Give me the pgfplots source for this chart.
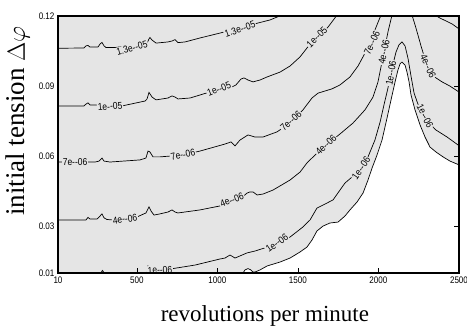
\documentclass[border=0pt]{standalone}
\usepackage{fontspec}
\setmainfont{Liberation Serif}
\newfontfamily\tickfont[FakeStretch=0.85]{Liberation Sans}
\usepackage{pgfplots}
\pgfplotsset{compat=1.18}
\definecolor{fillgray}{RGB}{229,229,229}
\newcommand\clab{\tickfont\fontsize{10}{11}\selectfont}
\begin{document}
\begin{tikzpicture}[x=1pt,y=1pt]
\begin{axis}[
  at={(58pt,52pt)}, anchor=south west,
  scale only axis, width=401pt, height=257pt,
  xmin=10, xmax=2500, ymin=0.01, ymax=0.12,
  xtick={10,500,1000,1500,2000,2500},
  xticklabels={10,500,1000,1500,2000,2500},
  ytick={0.01,0.03,0.06,0.09,0.12},
  yticklabels={0.01,0.03,0.06,0.09,0.12},
  xtick pos=bottom, ytick pos=right, yticklabel pos=left,
  tick align=inside, major tick length=5pt,
  tick style={black, line width=0.6pt},
  ticklabel style={font=\tickfont\fontsize{9.5}{10}\selectfont},
  axis line style={black, line width=1.1pt},
  axis background/.style={fill=fillgray},
  axis on top,
  xlabel={revolutions per minute},
  xlabel style={font=\fontsize{23}{26}\selectfont, at={(axis description cs:0.516,-0.167)}, anchor=center},
  ylabel={initial tension $\Delta\varphi$},
  ylabel style={font=\fontsize{27}{30}\selectfont, at={(axis description cs:-0.0998,0.591)}, anchor=center},
]
% white (lowest) region
\addplot[draw=none, fill=white] coordinates {(1159,0.0095)(1159,0.0100)(1171,0.0113)(1190,0.0119)(1208,0.0113)(1221,0.0104)(1233,0.0104)(1264,0.0113)(1308,0.0130)(1389,0.0147)(1451,0.0164)(1513,0.0190)(1556,0.0211)(1587,0.0241)(1618,0.0280)(1656,0.0301)(1699,0.0314)(1749,0.0318)(1792,0.0344)(1823,0.0370)(1867,0.0404)(1904,0.0442)(1935,0.0498)(1960,0.0549)(1991,0.0605)(2022,0.0669)(2053,0.0763)(2078,0.0841)(2103,0.0918)(2121,0.0969)(2134,0.0995)(2146,0.1003)(2165,0.0990)(2177,0.0960)(2190,0.0918)(2202,0.0862)(2227,0.0798)(2258,0.0734)(2289,0.0682)(2320,0.0639)(2357,0.0618)(2401,0.0597)(2444,0.0579)(2510,0.0560)(2510,0.0095)} -- cycle;
\addplot[black, line width=0.7pt] coordinates {(1159,0.0095)(1159,0.0100)(1171,0.0113)(1190,0.0119)(1208,0.0113)(1221,0.0104)(1233,0.0104)(1264,0.0113)(1308,0.0130)(1389,0.0147)(1451,0.0164)(1513,0.0190)(1556,0.0211)(1587,0.0241)(1618,0.0280)(1656,0.0301)(1699,0.0314)(1749,0.0318)(1792,0.0344)(1823,0.0370)(1867,0.0404)(1904,0.0442)(1935,0.0498)(1960,0.0549)(1991,0.0605)(2022,0.0669)(2053,0.0763)(2078,0.0841)(2103,0.0918)(2121,0.0969)(2134,0.0995)(2146,0.1003)(2165,0.0990)(2177,0.0960)(2190,0.0918)(2202,0.0862)(2227,0.0798)(2258,0.0734)(2289,0.0682)(2320,0.0639)(2357,0.0618)(2401,0.0597)(2444,0.0579)(2510,0.0560)};
% tiny contour at bottom
\addplot[black, line width=0.7pt] coordinates {(271,0.0095)(286,0.0111)(302,0.0095)};
% 1.3e-05
\addplot[black, line width=0.7pt] coordinates {(10,0.1062)(171,0.1063)(184,0.1072)(196,0.1074)(209,0.1067)(258,0.1067)(271,0.1080)(283,0.1087)(296,0.1072)(308,0.1065)(364,0.1065)(563,0.1084)(575,0.1102)(581,0.1108)(594,0.1097)(619,0.1084)(693,0.1089)(718,0.1093)(737,0.1099)(755,0.1086)(799,0.1089)(892,0.1106)(1016,0.1127)(1140,0.1149)(1252,0.1170)(1326,0.1183)(1401,0.1204)};
% 1e-05
\addplot[black, line width=0.7pt] coordinates {(10,0.0815)(171,0.0815)(184,0.0823)(196,0.0828)(209,0.0819)(258,0.0819)(407,0.0815)(550,0.0836)(563,0.0845)(575,0.0873)(594,0.0853)(619,0.0841)(693,0.0849)(718,0.0858)(737,0.0853)(755,0.0845)(830,0.0849)(954,0.0875)(1078,0.0892)(1115,0.0905)(1146,0.0930)(1165,0.0935)(1190,0.0926)(1221,0.0918)(1264,0.0926)(1308,0.0939)(1389,0.0960)(1451,0.0986)(1513,0.1025)(1556,0.1063)(1618,0.1106)(1687,0.1153)(1743,0.1204)};
% 7e-06
\addplot[black, line width=0.7pt] coordinates {(10,0.0575)(240,0.0575)(265,0.0579)(283,0.0592)(296,0.0579)(333,0.0575)(519,0.0584)(556,0.0592)(569,0.0622)(581,0.0618)(600,0.0597)(643,0.0597)(786,0.0605)(892,0.0622)(1047,0.0652)(1084,0.0661)(1109,0.0644)(1140,0.0669)(1190,0.0691)(1233,0.0682)(1283,0.0682)(1370,0.0704)(1407,0.0721)(1451,0.0746)(1494,0.0772)(1531,0.0798)(1587,0.0849)(1625,0.0870)(1668,0.0879)(1711,0.0888)(1761,0.0905)(1823,0.0939)(1873,0.0986)(1910,0.1033)(1947,0.1089)(1978,0.1140)(2003,0.1183)(2016,0.1204)};
\addplot[black, line width=0.7pt] coordinates {(2351,0.1204)(2382,0.1191)(2419,0.1179)(2457,0.1166)(2510,0.1140)};
% 4e-06
\addplot[black, line width=0.7pt] coordinates {(10,0.0327)(184,0.0327)(196,0.0338)(209,0.0331)(252,0.0331)(271,0.0344)(283,0.0353)(296,0.0336)(314,0.0329)(352,0.0327)(501,0.0340)(556,0.0357)(575,0.0383)(588,0.0365)(606,0.0348)(643,0.0353)(693,0.0361)(718,0.0370)(737,0.0361)(755,0.0357)(892,0.0370)(1016,0.0387)(1140,0.0417)(1184,0.0442)(1202,0.0447)(1221,0.0447)(1246,0.0434)(1283,0.0438)(1345,0.0455)(1451,0.0498)(1513,0.0532)(1556,0.0571)(1606,0.0605)(1699,0.0661)(1761,0.0695)(1842,0.0742)(1916,0.0798)(1966,0.0853)(1997,0.0918)(2028,0.1025)(2059,0.1132)(2084,0.1204)};
\addplot[black, line width=0.7pt] coordinates {(2208,0.1204)(2227,0.1162)(2245,0.1119)(2264,0.1072)(2283,0.1029)(2308,0.0986)(2332,0.0952)(2357,0.0935)(2395,0.0918)(2444,0.0900)(2510,0.0870)};
% 1e-06
\addplot[black, line width=0.7pt] coordinates {(563,0.0095)(569,0.0130)(575,0.0125)(581,0.0121)(643,0.0113)(706,0.0117)(861,0.0134)(1016,0.0160)(1047,0.0164)(1078,0.0177)(1109,0.0164)(1140,0.0173)(1184,0.0186)(1233,0.0194)(1370,0.0224)(1451,0.0254)(1531,0.0297)(1575,0.0327)(1618,0.0378)(1668,0.0395)(1718,0.0413)(1761,0.0455)(1792,0.0485)(1836,0.0511)(1885,0.0541)(1935,0.0597)(1978,0.0669)(2010,0.0746)(2034,0.0819)(2059,0.0892)(2084,0.0977)(2109,0.1046)(2127,0.1076)(2146,0.1089)(2165,0.1072)(2183,0.1020)(2202,0.0943)(2221,0.0870)(2245,0.0823)(2270,0.0793)(2295,0.0763)(2320,0.0738)(2357,0.0712)(2426,0.0682)(2510,0.0640)};
% contour labels
\tikzset{cl/.style={fill=fillgray, inner sep=0.8pt, font=\clab}}
\node[cl, rotate=15] at (axis cs:469,0.1063) {1.3e--05};
\node[cl, rotate=19] at (axis cs:1140,0.1144) {1.3e--05};
\node[cl, rotate=4]  at (axis cs:333,0.0813) {1e--05};
\node[cl, rotate=22] at (axis cs:1010,0.0888) {1e--05};
\node[cl, rotate=45] at (axis cs:1618,0.1110) {1e--05};
\node[cl, rotate=0]  at (axis cs:116,0.0575) {7e--06};
\node[cl, rotate=12] at (axis cs:786,0.0605) {7e--06};
\node[cl, rotate=42] at (axis cs:1457,0.0751) {7e--06};
\node[cl, rotate=65] at (axis cs:1960,0.1084) {7e--06};
\node[cl, rotate=8]  at (axis cs:426,0.0331) {4e--06};
\node[cl, rotate=22] at (axis cs:1090,0.0413) {4e--06};
\node[cl, rotate=44] at (axis cs:1674,0.0648) {4e--06};
\node[cl, rotate=78] at (axis cs:2034,0.1046) {4e--06};
\node[cl, rotate=-65] at (axis cs:2308,0.0986) {4e--06};
\node[cl, rotate=3]  at (axis cs:643,0.0113) {1e--06};
\node[cl, rotate=35] at (axis cs:1370,0.0228) {1e--06};
\node[cl, rotate=55] at (axis cs:1892,0.0549) {1e--06};
\node[cl, rotate=80] at (axis cs:2078,0.0956) {1e--06};
\node[cl, rotate=-63] at (axis cs:2289,0.0772) {1e--06};
\end{axis}
\pgfresetboundingbox
\useasboundingbox (0,0) rectangle (467,325);
\end{tikzpicture}
\end{document}
